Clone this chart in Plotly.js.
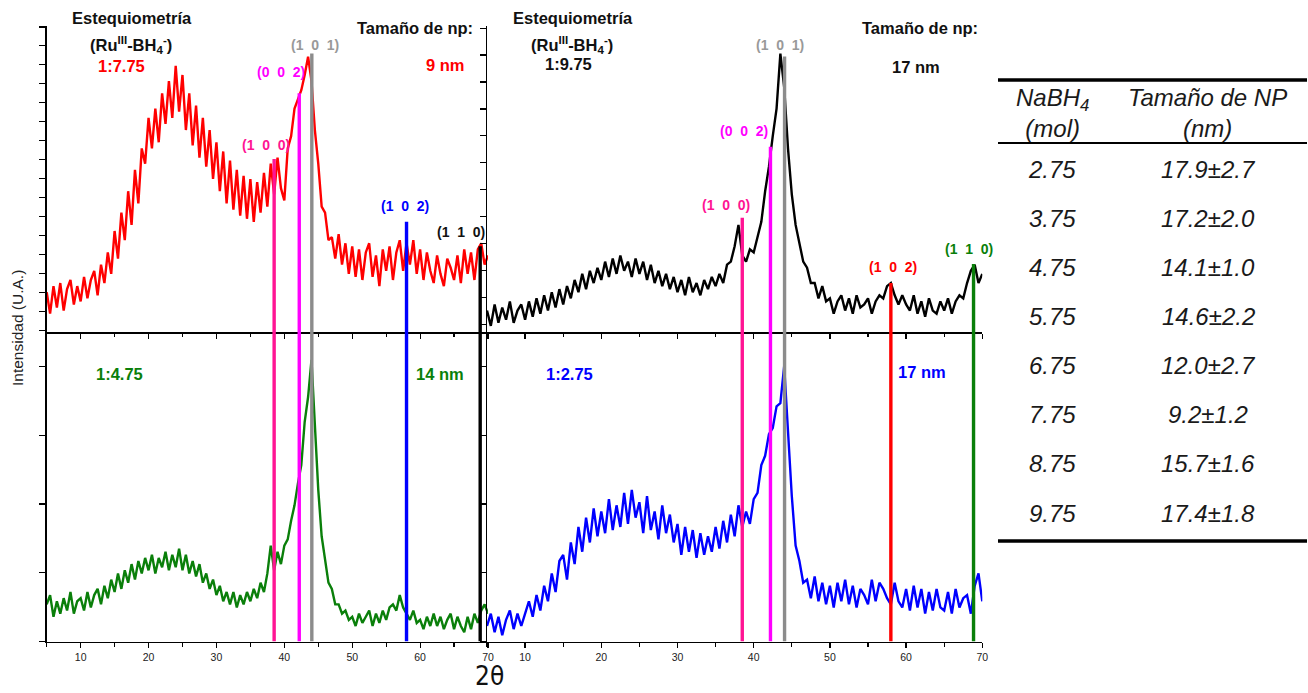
<!DOCTYPE html>
<html>
<head>
<meta charset="utf-8">
<script src="https://cdn.plot.ly/plotly-3.0.1.min.js"></script>
<style>
html,body{margin:0;padding:0;background:#fff;}
#chart{width:1308px;height:693px;}
</style>
</head>
<body>
<div id="chart"></div>
<script>
// ---------- DATA ----------
const twoTheta = [
 5,5.5,6,6.5,7,7.5,8,8.5,9,9.5,
 10,10.5,11,11.5,12,12.5,13,13.5,14,14.5,
 15,15.5,16,16.5,17,17.5,18,18.5,19,19.5,
 20,20.5,21,21.5,22,22.5,23,23.5,24,24.5,
 25,25.5,26,26.5,27,27.5,28,28.5,29,29.5,
 30,30.5,31,31.5,32,32.5,33,33.5,34,34.5,
 35,35.5,36,36.5,37,37.5,38,38.5,39,39.5,
 40,40.5,41,41.5,42,42.5,43,43.5,44,44.5,
 45,45.5,46,46.5,47,47.5,48,48.5,49,49.5,
 50,50.5,51,51.5,52,52.5,53,53.5,54,54.5,
 55,55.5,56,56.5,57,57.5,58,58.5,59,59.5,
 60,60.5,61,61.5,62,62.5,63,63.5,64,64.5,
 65,65.5,66,66.5,67,67.5,68,68.5,69,69.5,
 70];

// Ru(III):BH4- = 1:7.75  (9 nm)  - red, top left
const int775 = [
 13,6,15,8,16,7,14,17,9,15,
 10,18,11,17,20,12,22,16,26,19,
 33,24,39,30,46,35,53,42,60,55,
 70,60,73,62,78,68,82,70,87,72,
 84,66,78,61,74,57,70,54,66,50,
 62,46,59,42,56,40,53,38,51,37,
 50,36,49,39,52,41,55,45,57,47,
 43,60,64,73,76,79,84,90,82,66,
 55,41,39,30,31,24,32,22,29,19,
 28,18,27,17,26,29,18,25,15,27,
 20,28,17,26,30,20,29,22,30,19,
 27,17,26,20,16,25,19,15,24,21,
 17,25,16,27,19,26,17,27,29,22,
 25];

// 1:9.75 (17 nm) - black, top right
const int975 = [
 7,2,9,3,8,4,10,3,7,9,
 4,10,5,11,6,12,7,13,8,14,
 9,15,11,17,13,19,14,20,16,21,
 17,23,18,24,19,25,20,23,18,24,
 19,23,17,22,16,20,15,19,14,18,
 13,17,12,18,13,16,12,17,14,18,
 15,19,16,22,23,28,35,25,23,27,
 26,31,36,46,54,64,73,91,80,60,
 45,35,29,23,21,16,16,11,15,10,
 11,6,10,12,7,11,6,12,8,9,
 11,6,10,12,11,15,16,12,9,12,
 9,7,12,6,10,5,11,7,6,10,
 7,11,6,10,12,11,16,20,22,16,
 19];

// 1:4.75 (14 nm) - green, bottom left
const int475 = [
 12,15,8,13,9,14,10,16,9,13,
 14,10,16,11,15,17,12,18,14,20,
 16,22,17,23,19,25,20,26,22,27,
 23,28,22,27,24,29,23,28,24,30,
 23,28,22,26,21,25,19,22,17,20,
 15,18,13,16,12,16,11,15,12,16,
 13,17,14,19,16,22,31,23,29,25,
 31,33,39,44,51,57,71,79,91,70,
 49,34,27,19,17,12,12,9,10,7,
 8,5,9,6,8,10,5,9,6,10,
 7,11,12,10,15,11,9,7,10,6,
 7,4,8,5,9,5,8,4,7,9,
 4,8,5,3,8,4,9,6,10,12,
 9];

// 1:2.75 (17 nm) - blue, bottom right
const int275 = [
 5,9,3,8,2,7,10,4,9,5,
 9,13,8,15,10,18,13,22,16,26,
 28,20,32,25,37,29,40,32,43,34,
 42,35,46,36,44,37,48,38,49,40,
 45,35,47,36,42,33,44,35,41,32,
 38,28,37,29,36,27,35,28,34,29,
 37,30,39,32,41,34,44,37,42,38,
 46,48,57,60,67,69,76,77,89,68,
 47,31,26,19,20,14,21,13,19,12,
 18,11,19,13,20,12,18,11,17,15,
 12,20,13,19,17,14,12,19,13,11,
 17,10,18,11,17,9,16,10,17,11,
 10,16,9,17,11,14,15,9,18,22,
 13];

// Ru reflections
const hklLabels = ['(1 0 0)','(0 0 2)','(1 0 1)','(1 0 2)','(1 1 0)'];
const hklPos    = [38.5, 42.2, 44.05, 58.0, 68.85];
const hklTopLeft  = [56.5, 78, 91, 36, 28];   // heights of the reference lines in the top-left panel
const hklTopRight = [37.3, 60.5, 90, 16, 22.2];

// table
const tableHeader = ['NaBH<sub>4</sub><br>(mol)', 'Tamaño de NP<br>(nm)'];
const nabh4Mol = ['2.75','3.75','4.75','5.75','6.75','7.75','8.75','9.75'];
const npSize   = ['17.9±2.7','17.2±2.0','14.1±1.0','14.6±2.2','12.0±2.7','9.2±1.2','15.7±1.6','17.4±1.8'];

// ---------- STYLE / LAYOUT ----------
const W = 1308, H = 693;
const px = x => x / W;
const py = y => 1 - y / H;

const FONT = 'Liberation Sans, Arial, Helvetica, sans-serif';
const C = {red:'#FF0000', black:'#000000', green:'#0A7F0A', blue:'#0000FF',
           pink:'#FF1493', magenta:'#FF00FF', gray:'#8C8C8C', grayTxt:'#999999'};

const leftDom  = [px(46.7), px(488)];
const rightDom = [px(487), px(982.3)];
const topDom   = [py(332), py(26)];
const botDom   = [py(641.5), py(332)];

function xAxis(domain, anchor, labels){
  return {domain, anchor, range:[5,70], showline:true, linecolor:'#000', linewidth:1.5,
    ticks:'outside', ticklen:5, tickwidth:1.2, tickcolor:'#000', tick0:0, dtick:10,
    minor:{ticks:'outside', dtick:5, tick0:0, ticklen:3.5, tickwidth:1.2, tickcolor:'#000'},
    showticklabels:labels, tickfont:{family:FONT, size:10.5, color:'#222'},
    showgrid:false, zeroline:false, fixedrange:true};
}
function yAxis(domain, anchor, tick0, dtick){
  return {domain, anchor, range:[0,100], showline:true, linecolor:'#000', linewidth:1.5,
    ticks:'outside', ticklen:6, tickwidth:1.2, tickcolor:'#000', tick0, dtick,
    showticklabels:false, showgrid:false, zeroline:false, fixedrange:true};
}

const traces = [
  {x:twoTheta, y:int775, xaxis:'x',  yaxis:'y',  type:'scatter', mode:'lines', line:{color:C.red,   width:2.4}},
  {x:twoTheta, y:int975, xaxis:'x2', yaxis:'y2', type:'scatter', mode:'lines', line:{color:C.black, width:2.4}},
  {x:twoTheta, y:int475, xaxis:'x3', yaxis:'y3', type:'scatter', mode:'lines', line:{color:C.green, width:2.4}},
  {x:twoTheta, y:int275, xaxis:'x4', yaxis:'y4', type:'scatter', mode:'lines', line:{color:C.blue,  width:2.4}}
];

const leftLineColors  = [C.pink, C.magenta, C.gray, C.blue, C.black];
const rightLineColors = [C.pink, C.magenta, C.gray, C.red, C.green];

const shapes = [];
hklPos.forEach((p, i) => {
  shapes.push({type:'line', xref:'x',  yref:'y',  x0:p, x1:p, y0:0, y1:hklTopLeft[i],  line:{color:leftLineColors[i],  width:3.4}});
  shapes.push({type:'line', xref:'x3', yref:'y3', x0:p, x1:p, y0:0, y1:100,            line:{color:leftLineColors[i],  width:3.4}});
  shapes.push({type:'line', xref:'x2', yref:'y2', x0:p, x1:p, y0:0, y1:hklTopRight[i], line:{color:rightLineColors[i], width:3.4}});
  shapes.push({type:'line', xref:'x4', yref:'y4', x0:p, x1:p, y0:0, y1:100,            line:{color:rightLineColors[i], width:3.4}});
});
// table rules
shapes.push({type:'line', xref:'paper', yref:'paper', x0:px(998), x1:px(1307), y0:py(80),  y1:py(80),  line:{color:'#000', width:3.5}});
shapes.push({type:'line', xref:'paper', yref:'paper', x0:px(998), x1:px(1307), y0:py(143), y1:py(143), line:{color:'#000', width:2.2}});
shapes.push({type:'line', xref:'paper', yref:'paper', x0:px(998), x1:px(1307), y0:py(541), y1:py(541), line:{color:'#000', width:3.5}});

const ann = [];
function txt(text, x, y, color, size, bold, extra){
  ann.push(Object.assign({text: bold ? '<b>'+text+'</b>' : text, xref:'paper', yref:'paper',
    x:px(x), y:py(y), xanchor:'center', yanchor:'middle', showarrow:false,
    font:{family:FONT, size, color}}, extra||{}));
}
const NB = '\u00a0';
const hkl = s => s.replace(/ /g, ' ' + NB);
const stoich = '(Ru<sup>III</sup>-BH<sub>4</sub><sup>-</sup>)';
const LBL = 16.5;
// top left
txt('Estequiometría', 132, 18, '#111', LBL, true);
txt(stoich, 131, 45, '#111', LBL, true);
txt('1:7.75', 121, 66, C.red, LBL, true);
txt('Tamaño de np:', 415, 28, '#111', LBL, true);
txt('9 nm', 446, 65, C.red, LBL, true);
// top right
txt('Estequiometría', 573, 18, '#111', LBL, true);
txt(stoich, 572, 45, '#111', LBL, true);
txt('1:9.75', 568, 64, '#111', LBL, true);
txt('Tamaño de np:', 920, 28, '#111', LBL, true);
txt('17 nm', 916, 67, '#111', LBL, true);
// bottom
txt('1:4.75', 119, 374, C.green, LBL, true);
txt('14 nm', 440, 374, C.green, LBL, true);
txt('1:2.75', 569, 374, C.blue, LBL, true);
txt('17 nm', 922, 372, C.blue, LBL, true);
// hkl labels left
txt(hkl(hklLabels[0]), 266, 145, C.pink, 14, true);
txt(hkl(hklLabels[1]), 281, 72, C.magenta, 14, true);
txt(hkl(hklLabels[2]), 315, 45, C.grayTxt, 14, true);
txt(hkl(hklLabels[3]), 405, 206, C.blue, 14, true);
txt(hkl(hklLabels[4]), 461, 232, '#111', 14, true);
// hkl labels right
txt(hkl(hklLabels[0]), 726, 205, C.pink, 14, true);
txt(hkl(hklLabels[1]), 744, 131, C.magenta, 14, true);
txt(hkl(hklLabels[2]), 780, 45, C.grayTxt, 14, true);
txt(hkl(hklLabels[3]), 893, 267, C.red, 14, true);
txt(hkl(hklLabels[4]), 969, 249, C.green, 14, true);
// axis titles
txt('Intensidad (U.A.)', 17, 328, '#222', 15.5, false, {textangle:-90});
txt('2θ', 489, 676, '#111', 26, false, {font:{family:'Liberation Sans Narrow, DejaVu Sans Condensed, Arial Narrow, sans-serif', size:26, color:'#111'}});
// table
txt('<i>'+tableHeader[0]+'</i>', 1052, 113, '#1a1a1a', 24, false);
txt('<i>'+tableHeader[1]+'</i>', 1207, 113, '#1a1a1a', 24, false);
nabh4Mol.forEach((v,i) => {
  const y = 169 + i * 49.15;
  txt('<i>'+v+'</i>', 1052, y, '#1a1a1a', 24, false);
  txt('<i>'+npSize[i]+'</i>', 1208, y, '#1a1a1a', 24, false);
});

const layout = {
  width:W, height:H, margin:{l:0,r:0,t:0,b:0},
  paper_bgcolor:'#fff', plot_bgcolor:'rgba(0,0,0,0)', showlegend:false,
  font:{family:FONT},
  xaxis:  xAxis(leftDom,  'y',  false),
  xaxis2: xAxis(rightDom, 'y2', false),
  xaxis3: xAxis(leftDom,  'y3', true),
  xaxis4: xAxis(rightDom, 'y4', true),
  yaxis:  yAxis(topDom, 'x',  0.5, 6.2),
  yaxis2: yAxis(topDom, 'x2', 2.5, 8.8),
  yaxis3: yAxis(botDom, 'x3', 0, 22.2),
  yaxis4: yAxis(botDom, 'x4', 0, 22.2),
  shapes, annotations:ann
};

Plotly.newPlot('chart', traces, layout, {staticPlot:true, displayModeBar:false});
</script>
</body>
</html>
